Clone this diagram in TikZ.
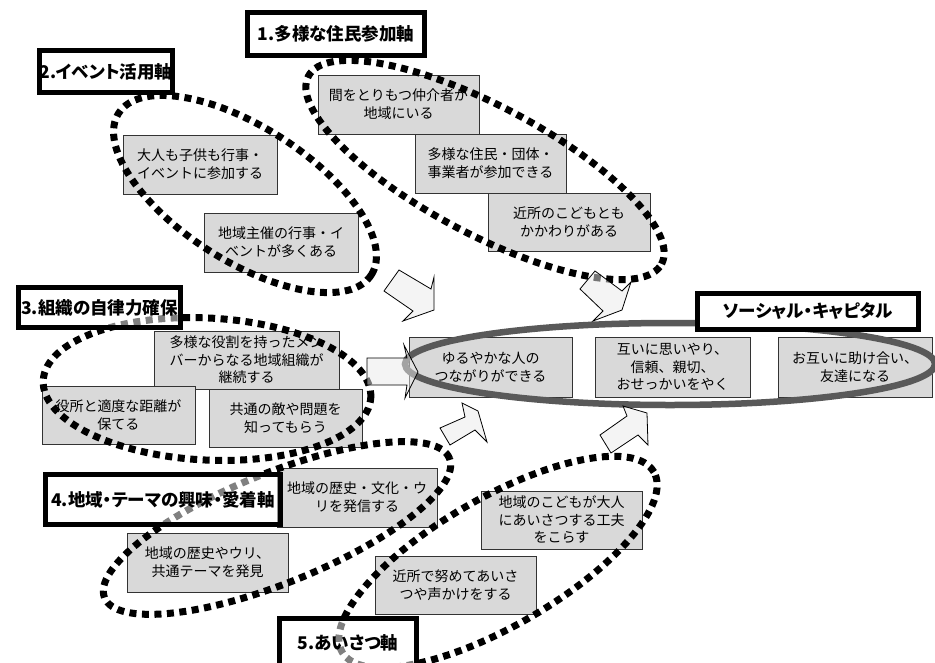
\documentclass[tikz,border=0pt]{standalone}
\usepackage{fontspec}
\setmainfont{Noto Sans CJK JP}[RawFeature=+palt]
\newfontfamily\jpcontent{Noto Sans CJK JP}
\begin{document}
\begin{tikzpicture}[x=1pt,y=-1pt,
  cbox/.style={draw=black!80, line width=0.8pt, fill=black!15, inner sep=0pt, align=center,
    font=\jpcontent\fontsize{14}{18}\selectfont},
  tbox/.style={draw=black, line width=5pt, fill=white, inner sep=0pt, align=center,
    font=\bfseries\fontsize{17.5}{20}\selectfont},
  tboxt/.style={tbox, fill opacity=0.5, text opacity=1, draw opacity=1},
  dots/.style={line width=7pt, dash pattern=on 7pt off 5.5pt, draw=black},
  bigring/.style={line width=6.5pt, draw=black!65},
  barrow/.style={draw=black, line width=0.8pt, fill=black!8, fill opacity=0.5, line join=miter}]
\useasboundingbox (0,0) rectangle (935,662);
\fill[white] (0,0) rectangle (935,662);

% content boxes
\node[cbox, minimum width=161pt, minimum height=59pt] (a1) at (398.5,104.5) {間をとりもつ仲介者が\\地域にいる};
\node[cbox, minimum width=151pt, minimum height=59pt] (a2) at (490.5,163.5) {多様な住民・団体・\\事業者が参加できる};
\node[cbox, minimum width=162pt, minimum height=58pt] (a3) at (569,222) {近所のこどもとも\\かかわりがある};
\node[cbox, minimum width=154pt, minimum height=59pt] (b1) at (200,164.5) {大人も子供も行事・\\イベントに参加する};
\node[cbox, minimum width=154pt, minimum height=59pt] (b2) at (281,242.5) {地域主催の行事・イ\\ベントが多くある};
\node[cbox, minimum width=185pt, minimum height=58pt, font=\jpcontent\fontsize{14}{17.5}\selectfont] (c1) at (246.5,360) {多様な役割を持ったメン\\バーからなる地域組織が\\継続する};
\node[cbox, minimum width=153pt, minimum height=58pt] (c2) at (118.5,415) {役所と適度な距離が\\保てる};
\node[cbox, minimum width=153pt, minimum height=58pt] (c3) at (285.5,418) {共通の敵や問題を\\知ってもらう};
\node[cbox, minimum width=160pt, minimum height=59pt] (d1) at (357,497.5) {地域の歴史・文化・ウ\\リを発信する};
\node[cbox, minimum width=161pt, minimum height=59pt] (d2) at (207.5,562.5) {地域の歴史やウリ、\\共通テーマを発見};
\node[cbox, minimum width=161pt, minimum height=58pt, font=\jpcontent\fontsize{14}{17.5}\selectfont] (e1) at (561.5,520) {地域のこどもが大人\\にあいさつする工夫\\をこらす};
\node[cbox, minimum width=161pt, minimum height=58pt] (e2) at (455.5,585) {近所で努めてあいさ\\つや声かけをする};
\node[cbox, minimum width=163pt, minimum height=60pt] (s1) at (490.5,367) {ゆるやかな人の\\つながりができる};
\node[cbox, minimum width=155pt, minimum height=60pt, font=\jpcontent\fontsize{14}{17.5}\selectfont] (s2) at (672.5,367) {互いに思いやり、\\信頼、親切、\\おせっかいをやく};
\node[cbox, minimum width=154pt, minimum height=60pt] (s3) at (855,367) {お互いに助け合い、\\友達になる};

% dotted group rings
\draw[dots, rotate around={-28:(485,170)}] (485,170) ellipse [x radius=200pt, y radius=64pt];
\draw[dots, rotate around={-32.6:(245,194)}] (245,194) ellipse [x radius=150pt, y radius=67pt];
\draw[dots, rotate around={-3:(207,389)}] (207,389) ellipse [x radius=164pt, y radius=71pt];
\draw[dots, rotate around={22:(277,528)}] (277,528) ellipse [x radius=186pt, y radius=55pt];
\draw[dots, rotate around={30:(498,562)}] (498,562) ellipse [x radius=180pt, y radius=64pt];

% social capital ring
\draw[bigring] (670,364) ellipse [x radius=265pt, y radius=41pt];

% block arrows
\draw[barrow] (399,270) -- (431,289) -- (434,277) -- (434,310) -- (403,321) -- (413,311) -- (384,291) -- cycle;
\draw[barrow] (595,271) -- (622,291) -- (631,282) -- (622,310) -- (593,321) -- (603,311) -- (580,289) -- cycle;
\draw[barrow] (367,358) -- (407,358) -- (404,345) -- (418,372) -- (405,398) -- (407,385) -- (367,385) -- cycle;
\draw[barrow] (440,428) -- (465,417) -- (462,403) -- (478,411) -- (487,442) -- (475,430) -- (450,445) -- cycle;
\draw[barrow] (600,435) -- (627,416) -- (623,406) -- (647,413) -- (648,445) -- (638,435) -- (611,453) -- cycle;

% title boxes
\node[tbox, minimum width=177pt, minimum height=43pt] (t1) at (336,34) {1.多様な住民参加軸};
\node[tbox, minimum width=131pt, minimum height=42pt] (t2) at (106,71.5) {2.イベント活用軸};
\node[tboxt, minimum width=162pt, minimum height=40pt] (t3) at (99.5,307.5) {3.組織の自律力確保};
\node[tboxt, minimum width=235pt, minimum height=50pt] (t4) at (163,499.5) {4.地域・テーマの興味・愛着軸};
\node[tboxt, minimum width=137pt, minimum height=49pt] (t5) at (348,643) {5.あいさつ軸};
\node[tbox, minimum width=221pt, minimum height=36pt] (ts) at (808,311.5) {ソーシャル・キャピタル};
\end{tikzpicture}
\end{document}
